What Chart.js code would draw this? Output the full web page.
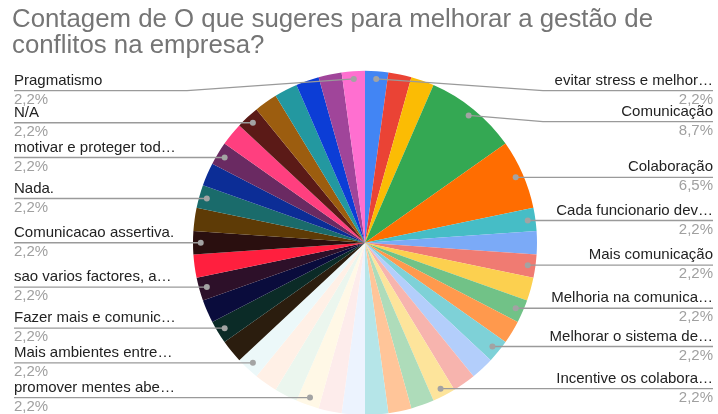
<!DOCTYPE html>
<html>
<head>
<meta charset="utf-8">
<style>
  html, body { margin: 0; padding: 0; background: #fff; overflow: hidden; }
  #wrap { position: relative; width: 718px; height: 414px; }
</style>
<script src="https://cdn.jsdelivr.net/npm/chart.js@4.4.1/dist/chart.umd.min.js"></script>
</head>
<body>
<div id="wrap"><canvas id="grafico" width="718" height="414"></canvas></div>
<script>
// Title lines
const tituloLinhas = [
  'Contagem de O que sugeres para melhorar a gestão de',
  'conflitos na empresa?'
];

// Answers in slice order (clockwise from 12 o'clock); '' = answer without an outside label
const respostas = [
  'evitar stress e melhor…', '', '', 'Comunicação', 'Colaboração', 'Cada funcionario dev…',
  '', 'Mais comunicação', '', 'Melhoria na comunica…', '', 'Melhorar o sistema de…',
  '', '', 'Incentive os colabora…', '', '', '',
  '', '', 'promover mentes abe…', '', '', 'Mais ambientes entre…',
  '', 'Fazer mais e comunic…', '', 'sao varios factores, a…', '', 'Comunicacao assertiva.',
  '', 'Nada.', '', 'motivar e proteger tod…', '', 'N/A',
  '', '', '', '', 'Pragmatismo'
];

// Number of responses per answer
const contagens = [
  1, 1, 1, 4, 3, 1,
  1, 1, 1, 1, 1, 1,
  1, 1, 1, 1, 1, 1,
  1, 1, 1, 1, 1, 1,
  1, 1, 1, 1, 1, 1,
  1, 1, 1, 1, 1, 1,
  1, 1, 1, 1, 1
];

// Slice colours
const cores = [
  '#4285f4', '#ea4335', '#fbbc04', '#34a853', '#ff6d01', '#46bdc6',
  '#7baaf7', '#f07b72', '#fcd04f', '#71c287', '#ff994d', '#7ed1d7',
  '#b3cefb', '#f7b4ae', '#fde49b', '#aedcba', '#ffc599', '#b5e5e8',
  '#ecf3fe', '#fdeceb', '#fff8e6', '#ebf6ee', '#fff0e6', '#ecf8f9',
  '#2b1d0e', '#0b2b27', '#0a0c3c', '#2d1029', '#ff1f3e', '#2a0f0f',
  '#5e3b06', '#1a6b6b', '#0c2d96', '#6a2a62', '#ff3f7f', '#5b1a17',
  '#9c5d0f', '#2398a0', '#0c3dd6', '#a0459a', '#ff6fd0'
];

const FONTE = '"Liberation Sans", Arial, sans-serif';

// Outside labels with leader lines, value shown as a percentage of the total
const rotulosExternos = {
  id: 'rotulosExternos',
  afterDatasetsDraw(chart) {
    const ctx = chart.ctx;
    const meta = chart.getDatasetMeta(0);
    const total = contagens.reduce((a, b) => a + b, 0);
    const esquerda = [], direita = [];
    meta.data.forEach((arc, i) => {
      if (!respostas[i]) return;
      const p = arc.getProps(['x', 'y', 'startAngle', 'endAngle', 'outerRadius'], true);
      const meio = (p.startAngle + p.endAngle) / 2;
      const r = p.outerRadius * 0.955;
      const item = {
        nome: respostas[i],
        pct: (contagens[i] / total * 100).toFixed(1).replace('.', ',') + '%',
        px: p.x + Math.cos(meio) * r,
        py: p.y + Math.sin(meio) * r,
        cx: p.x,
        R: p.outerRadius
      };
      (item.px >= p.x ? direita : esquerda).push(item);
    });

    const topoMin = chart.chartArea.top + 19;
    const passo = 31;

    function desenhaLado(lista, lado) {
      lista.sort((a, b) => a.py - b.py);
      let anterior = -Infinity;
      lista.forEach(it => {
        const ly = Math.max(it.py, topoMin, anterior + passo);
        anterior = ly;
        const cotovelo = lado === 'dir' ? it.cx + it.R + 6 : it.cx - it.R - 6;
        const borda = lado === 'dir' ? 713 : 14;

        ctx.save();
        ctx.strokeStyle = '#9a9a9a';
        ctx.lineWidth = 1.4;
        ctx.beginPath();
        ctx.moveTo(it.px, it.py);
        if ((lado === 'dir' && it.px < cotovelo) || (lado === 'esq' && it.px > cotovelo)) {
          ctx.lineTo(cotovelo, ly);
        }
        ctx.lineTo(borda, ly);
        ctx.stroke();

        ctx.fillStyle = '#a3a3a3';
        ctx.beginPath();
        ctx.arc(it.px, it.py, 3, 0, Math.PI * 2);
        ctx.fill();

        ctx.textAlign = lado === 'dir' ? 'right' : 'left';
        ctx.textBaseline = 'middle';
        ctx.font = '15px ' + FONTE;
        ctx.fillStyle = '#222222';
        ctx.fillText(it.nome, borda, ly - 10);
        ctx.fillStyle = '#a0a0a0';
        ctx.fillText(it.pct, borda, ly + 9);
        ctx.restore();
      });
    }
    desenhaLado(direita, 'dir');
    desenhaLado(esquerda, 'esq');
  }
};

new Chart(document.getElementById('grafico'), {
  type: 'pie',
  data: {
    labels: respostas,
    datasets: [{
      data: contagens,
      backgroundColor: cores,
      borderWidth: 0,
      offset: 0,
      hoverOffset: 0
    }]
  },
  options: {
    responsive: false,
    devicePixelRatio: 1,
    animation: false,
    radius: 172,
    layout: { padding: { left: 12, right: 0, top: 0, bottom: 0 } },
    plugins: {
      legend: { display: false },
      tooltip: { enabled: false },
      title: {
        display: true,
        text: tituloLinhas,
        align: 'start',
        color: '#757575',
        font: { family: FONTE, size: 25.8, weight: 'normal', lineHeight: 1.0 },
        padding: { top: 7, bottom: 13 }
      }
    }
  },
  plugins: [rotulosExternos]
});
</script>
</body>
</html>
